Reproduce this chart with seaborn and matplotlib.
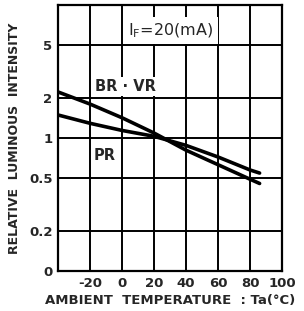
import matplotlib
matplotlib.use("Agg")
import matplotlib.pyplot as plt
import seaborn as sns
import pandas as pd
from matplotlib.ticker import FixedLocator, NullLocator

temps = [-40, -20, 0, 20, 40, 60, 80, 86]
br_vr = [2.22, 1.80, 1.42, 1.09, 0.81, 0.63, 0.49, 0.455]
pr = [1.49, 1.29, 1.14, 1.03, 0.88, 0.72, 0.575, 0.545]
series_names = ["BR · VR", "PR"]
x_ticks = [-20, 0, 20, 40, 60, 80, 100]
y_ticks = [0.1, 0.2, 0.5, 1, 2, 5]
y_tick_labels = ["0", "0.2", "0.5", "1", "2", "5"]

df = pd.DataFrame({
    "Ta": temps * 2,
    "I": br_vr + pr,
    "series": [series_names[0]] * len(temps) + [series_names[1]] * len(temps),
})

sns.set_style("white")
plt.rcParams["font.family"] = ["DejaVu Sans"]
fig = plt.figure(figsize=(3.04, 3.11), dpi=100)
ax = fig.add_axes([58 / 304, 40 / 311, 224 / 304, 266 / 311])

sns.lineplot(data=df, x="Ta", y="I", hue="series", palette=["black", "black"],
             linewidth=2.6, legend=False, ax=ax)
ax.set_yscale("log")
ax.set_xlim(-40, 100)
ax.set_ylim(0.1, 10)
ax.xaxis.set_major_locator(FixedLocator(x_ticks))
ax.yaxis.set_major_locator(FixedLocator(y_ticks))
ax.yaxis.set_minor_locator(NullLocator())
ax.set_yticklabels(y_tick_labels)
ax.set_xticklabels([str(t) for t in x_ticks])
ax.grid(True, color="black", linewidth=1.4)
for s in ax.spines.values():
    s.set_color("black")
    s.set_linewidth(1.6)
ax.tick_params(length=0, pad=4, labelsize=9.5)
for lab in ax.get_xticklabels() + ax.get_yticklabels():
    lab.set_fontweight("bold")

ax.set_xlabel("AMBIENT  TEMPERATURE  : Ta(°C)", fontsize=9.5, fontweight="bold", labelpad=3)
ax.set_ylabel("RELATIVE  LUMINOUS  INTENSITY", fontsize=9, fontweight="bold", labelpad=6)

box = dict(facecolor="white", edgecolor="none", pad=1.5)
ax.text(-17, 2.45, "BR · VR", fontsize=10.5, fontweight="bold", ha="left", va="center", bbox=box)
ax.text(-18, 0.74, "PR", fontsize=10.5, fontweight="bold", ha="left", va="center", bbox=box)
ax.text(4, 6.4, r"I$_\mathregular{F}$=20(mA)", fontsize=11.5, fontweight="medium",
        ha="left", va="center", bbox=dict(facecolor="white", edgecolor="none", pad=3))

fig.savefig("out.png", dpi=100)
